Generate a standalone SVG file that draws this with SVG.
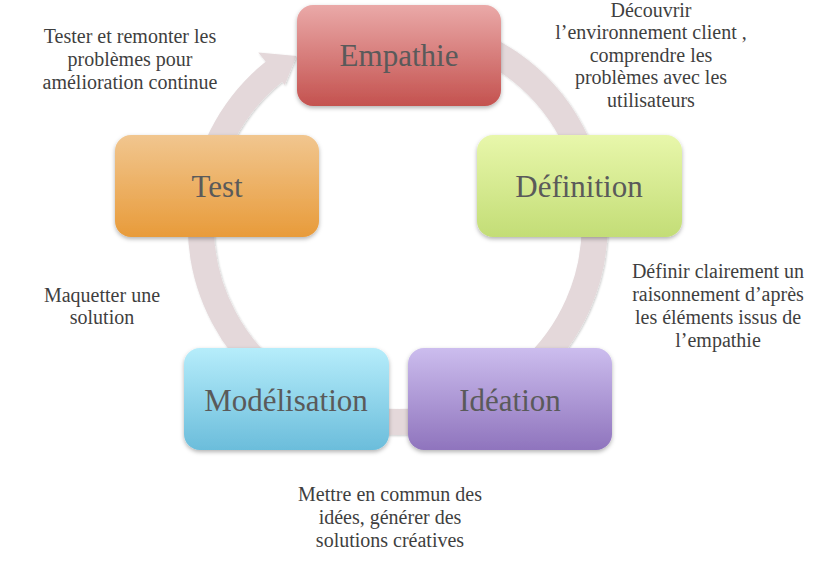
<svg xmlns="http://www.w3.org/2000/svg" width="820" height="561" viewBox="0 0 820 561">
<defs>
<linearGradient id="gE" x1="0" y1="0" x2="0" y2="1"><stop offset="0" stop-color="#eaa9a8"/><stop offset="1" stop-color="#c4524f"/></linearGradient>
<linearGradient id="gD" x1="0" y1="0" x2="0" y2="1"><stop offset="0" stop-color="#e8f7ab"/><stop offset="1" stop-color="#c3dd76"/></linearGradient>
<linearGradient id="gI" x1="0" y1="0" x2="0" y2="1"><stop offset="0" stop-color="#ccbdee"/><stop offset="1" stop-color="#8f74bd"/></linearGradient>
<linearGradient id="gM" x1="0" y1="0" x2="0" y2="1"><stop offset="0" stop-color="#b6edfb"/><stop offset="1" stop-color="#6bbddb"/></linearGradient>
<linearGradient id="gT" x1="0" y1="0" x2="0" y2="1"><stop offset="0" stop-color="#f1c68f"/><stop offset="1" stop-color="#e89b3a"/></linearGradient>
<filter id="sh" x="-10%" y="-10%" width="120%" height="130%"><feDropShadow dx="0" dy="2" stdDeviation="2" flood-color="#000" flood-opacity="0.3"/></filter>
<filter id="rs" x="-10%" y="-10%" width="120%" height="120%"><feDropShadow dx="1" dy="1" stdDeviation="1" flood-color="#000" flood-opacity="0.2"/></filter>
</defs>
<style>
.node rect{rx:16px;ry:16px;filter:url(#sh)}
.nt{font-family:"Liberation Serif",serif;font-size:31px;fill:#5a5a5a;text-anchor:middle}
.lb{font-family:"Liberation Serif",serif;font-size:20px;fill:#3f3f3f;text-anchor:middle}
</style>
<g id="connectors" filter="url(#rs)">
<path d="M432.2,31.0 A197,197 0 1 1 274.6,71.2" fill="none" stroke="#e4d8da" stroke-width="26"/>
<polygon points="258.3,52.5 296.5,56.1 284.7,85.1" fill="#e4d8da"/>
</g>
<g id="empathie" class="node"><rect x="297" y="5" width="204" height="101" fill="url(#gE)"/><text class="nt" x="399" y="66">Empathie</text></g>
<g id="definition" class="node"><rect x="477" y="135" width="205" height="102" fill="url(#gD)"/><text class="nt" x="579" y="197">Définition</text></g>
<g id="ideation" class="node"><rect x="408" y="348" width="204" height="102" fill="url(#gI)"/><text class="nt" x="510" y="411">Idéation</text></g>
<g id="modelisation" class="node"><rect x="184" y="348" width="205" height="102" fill="url(#gM)"/><text class="nt" x="286" y="411">Modélisation</text></g>
<g id="test" class="node"><rect x="115" y="135" width="204" height="102" fill="url(#gT)"/><text class="nt" x="217" y="197">Test</text></g>
<g id="labels">
<text class="lb" x="130" y="43">Tester et remonter les</text>
<text class="lb" x="130" y="66">problèmes pour</text>
<text class="lb" x="130" y="89">amélioration continue</text>
<text class="lb" x="651" y="17">Découvrir</text>
<text class="lb" x="651" y="39">l’environnement client ,</text>
<text class="lb" x="651" y="62">comprendre les</text>
<text class="lb" x="651" y="84">problèmes avec les</text>
<text class="lb" x="651" y="107">utilisateurs</text>
<text class="lb" x="718" y="278">Définir clairement un</text>
<text class="lb" x="718" y="301">raisonnement d’après</text>
<text class="lb" x="718" y="324">les éléments issus de</text>
<text class="lb" x="718" y="347">l’empathie</text>
<text class="lb" x="102" y="302">Maquetter une</text>
<text class="lb" x="102" y="324">solution</text>
<text class="lb" x="390" y="501">Mettre en commun des</text>
<text class="lb" x="390" y="524">idées, générer des</text>
<text class="lb" x="390" y="547">solutions créatives</text>
</g>
</svg>
